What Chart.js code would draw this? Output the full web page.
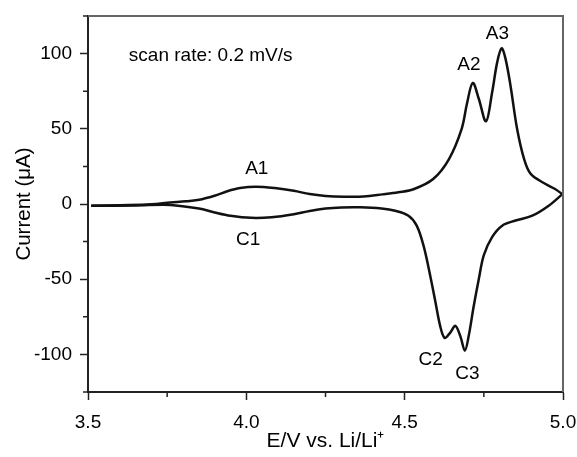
<!DOCTYPE html>
<html>
<head>
<meta charset="utf-8">
<script src="https://cdn.jsdelivr.net/npm/chart.js@4/dist/chart.umd.min.js"></script>
<style>
    html, body { margin: 0; padding: 0; background: #fff; }
    #wrap { width: 577px; height: 457px; }
</style>
</head>
<body>
<div id="wrap"><canvas id="cvChart" width="577" height="457"></canvas></div>
<script>
// anodic sweep, 3.5 -> 5.0 V (potential in V, current in uA)
const anodicE = [3.51, 3.60, 3.70, 3.76, 3.81, 3.86, 3.90, 3.94, 3.98, 4.03, 4.09, 4.15, 4.20, 4.25, 4.31, 4.37, 4.43, 4.48, 4.53, 4.59, 4.64, 4.68, 4.697, 4.715, 4.734, 4.757, 4.776, 4.792, 4.806, 4.818, 4.834, 4.855, 4.877, 4.898, 4.945, 4.975, 4.998];
const anodicI = [-1.2, -0.8, -0.2, 1.0, 1.8, 3.2, 5.5, 8.5, 10.6, 11.5, 10.6, 8.8, 6.6, 5.4, 4.9, 5.0, 6.4, 7.8, 10, 16.6, 29.9, 50, 67, 80.5, 70, 55, 74, 94, 103.5, 97, 79, 50, 30, 20, 13.3, 10, 6.5];

// cathodic sweep, 5.0 -> 3.5 V
const cathodicE = [4.998, 4.956, 4.903, 4.85, 4.808, 4.776, 4.75, 4.734, 4.718, 4.702, 4.69, 4.676, 4.66, 4.644, 4.626, 4.612, 4.597, 4.581, 4.56, 4.538, 4.512, 4.47, 4.427, 4.36, 4.30, 4.25, 4.20, 4.15, 4.08, 4.015, 3.95, 3.90, 3.85, 3.76, 3.65, 3.51];
const cathodicI = [6.5, -1, -7.8, -11, -14.4, -22, -34, -50, -68, -88, -97.5, -88, -81, -85.5, -89, -81, -65, -48, -28, -14.4, -7.8, -4.5, -3.0, -2.2, -2.3, -3.0, -4.6, -6.8, -8.8, -9.2, -7.8, -5.6, -3.0, -0.6, -1.0, -1.2];

const xMajor = [3.5, 4.0, 4.5, 5.0];
const xMinor = [3.75, 4.25, 4.75];
const yMajor = [-100, -50, 0, 50, 100];
const yMinor = [-125, -75, -25, 25, 75, 125];

// peak labels
const peakNames = ['A1', 'C1', 'A2', 'A3', 'C2', 'C3'];
const peakE = [4.033, 4.006, 4.703, 4.793, 4.582, 4.698];
const peakI = [23.2, -23.8, 92.7, 113.2, -103.8, -112.7];
const noteText = 'scan rate: 0.2 mV/s';
const noteE = 3.629, noteI = 98.3;

const FONT = '"Liberation Sans", Arial, sans-serif';

function toPoints(xs, ys) {
    return xs.map((x, i) => ({ x: x, y: ys[i] }));
}

// frame, minor ticks and text labels
const extras = {
    id: 'extras',
    afterDraw(chart) {
        const ctx = chart.ctx;
        const a = chart.chartArea;
        const sx = chart.scales.x, sy = chart.scales.y;
        ctx.save();

        // top + right frame
        ctx.strokeStyle = '#666';
        ctx.lineWidth = 2;
        ctx.beginPath();
        ctx.moveTo(a.left, a.top);
        ctx.lineTo(a.right, a.top);
        ctx.lineTo(a.right, a.bottom);
        ctx.stroke();

        // minor ticks
        ctx.strokeStyle = '#222';
        ctx.lineWidth = 1.5;
        ctx.beginPath();
        xMinor.forEach(v => {
            const px = sx.getPixelForValue(v);
            ctx.moveTo(px, a.bottom);
            ctx.lineTo(px, a.bottom + 5);
        });
        yMinor.forEach(v => {
            const py = sy.getPixelForValue(v);
            ctx.moveTo(a.left, py);
            ctx.lineTo(a.left - 5, py);
        });
        ctx.stroke();

        // labels
        ctx.fillStyle = '#000';
        ctx.textAlign = 'center';
        ctx.textBaseline = 'middle';
        ctx.font = '19px ' + FONT;
        peakNames.forEach((name, i) => {
            ctx.fillText(name, sx.getPixelForValue(peakE[i]), sy.getPixelForValue(peakI[i]));
        });
        ctx.textAlign = 'left';
        ctx.fillText(noteText, sx.getPixelForValue(noteE), sy.getPixelForValue(noteI));
        ctx.restore();
    }
};

new Chart(document.getElementById('cvChart'), {
    type: 'scatter',
    data: {
        datasets: [
            {
                label: 'anodic',
                data: toPoints(anodicE, anodicI),
                showLine: true,
                borderColor: '#111',
                borderWidth: 2.5,
                pointRadius: 0,
                tension: 0.35
            },
            {
                label: 'cathodic',
                data: toPoints(cathodicE, cathodicI),
                showLine: true,
                borderColor: '#111',
                borderWidth: 2.5,
                pointRadius: 0,
                tension: 0.35
            }
        ]
    },
    options: {
        responsive: false,
        animation: false,
        layout: { padding: { top: 16, right: 14, left: 0, bottom: 0 } },
        plugins: {
            legend: { display: false },
            tooltip: { enabled: false }
        },
        scales: {
            x: {
                type: 'linear',
                min: 3.5,
                max: 5.0,
                afterFit: s => { s.height = 65; s.paddingRight = 0; s.paddingLeft = 0; },
                afterBuildTicks: s => { s.ticks = xMajor.map(v => ({ value: v })); },
                ticks: {
                    color: '#000',
                    font: { family: FONT, size: 19 },
                    padding: 11,
                    maxRotation: 0,
                    callback: v => Number(v).toFixed(1)
                },
                grid: { drawOnChartArea: false, tickLength: 8, tickColor: '#222', tickWidth: 1.5 },
                border: { color: '#222', width: 2 },
                title: {
                    display: true,
                    text: 'E/V vs. Li/Li⁺',
                    color: '#000',
                    font: { family: FONT, size: 21 },
                    padding: { top: 0, bottom: 3 }
                }
            },
            y: {
                type: 'linear',
                min: -125,
                max: 125,
                afterFit: s => { s.width = 88; s.paddingTop = 0; s.paddingBottom = 0; },
                afterBuildTicks: s => { s.ticks = yMajor.map(v => ({ value: v })); },
                ticks: {
                    color: '#000',
                    font: { family: FONT, size: 19 },
                    padding: 8
                },
                grid: { drawOnChartArea: false, tickLength: 8, tickColor: '#222', tickWidth: 1.5 },
                border: { color: '#222', width: 2 },
                title: {
                    display: true,
                    text: 'Current (μA)',
                    color: '#000',
                    font: { family: FONT, size: 20.5 },
                    padding: { top: 12, bottom: 0 }
                }
            }
        }
    },
    plugins: [extras]
});
</script>
</body>
</html>
